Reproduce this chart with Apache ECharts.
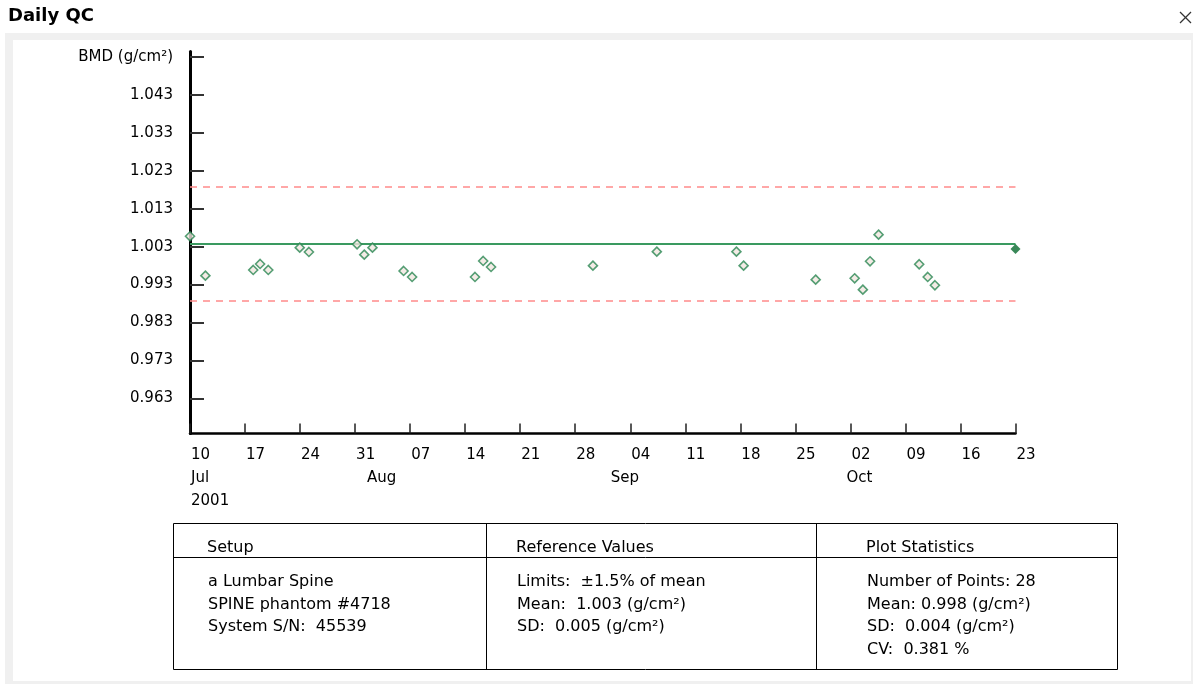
<!DOCTYPE html>
<html>
<head>
<meta charset="utf-8">
<script src="https://cdn.jsdelivr.net/npm/echarts@6/dist/echarts.min.js"></script>
<style>
  html, body { margin: 0; padding: 0; background: #fff; width: 1194px; height: 684px; overflow: hidden; }
  #frame { position: absolute; left: 5px; top: 33px; width: 1188px; height: 651px; background: #f0f0f0; }
  #inner { position: absolute; left: 13px; top: 40px; width: 1178px; height: 641px; background: #fff; }
  #chart { position: absolute; left: 0; top: 0; width: 1194px; height: 684px; }
</style>
</head>
<body>
<div id="frame"></div>
<div id="inner"></div>
<div id="chart"></div>
<script>
// ---------- data ----------
const titleText = 'Daily QC';
const yAxisName = 'BMD (g/cm\u00b2)';
const yTicks = [0.963, 0.973, 0.983, 0.993, 1.003, 1.013, 1.023, 1.033, 1.043, 1.053];
const yMin = 0.9537;
const yMax = 1.0545;
const xStart = '2001-07-10 00:00';
const xEnd = '2001-10-23 00:00';
const monthNames = ['Jul', 'Aug', 'Sep', 'Oct'];
const monthStarts = ['2001-07-10 00:00', '2001-08-01 00:00', '2001-09-01 00:00', '2001-10-01 00:00'];
const yearLabel = '2001';

const qcDates = [
  '2001-07-10 00:00', '2001-07-11 23:00', '2001-07-18 01:00', '2001-07-18 22:00', '2001-07-19 23:00',
  '2001-07-23 23:00', '2001-07-25 03:00', '2001-07-31 06:00', '2001-08-01 04:00', '2001-08-02 05:00',
  '2001-08-06 04:00', '2001-08-07 06:00', '2001-08-15 06:00', '2001-08-16 07:00', '2001-08-17 07:00',
  '2001-08-30 06:00', '2001-09-07 09:00', '2001-09-17 12:00', '2001-09-18 10:00', '2001-09-27 14:00',
  '2001-10-02 13:00', '2001-10-03 14:00', '2001-10-04 12:00', '2001-10-05 14:00', '2001-10-10 18:00',
  '2001-10-11 20:00', '2001-10-12 18:00'
];
const qcBMD = [
  1.00574, 0.99535, 0.99685, 0.99844, 0.99685,
  1.00274, 1.00160, 1.00363, 1.00089, 1.00274,
  0.99659, 0.99501, 0.99501, 0.99923, 0.99764,
  0.99799, 1.00168, 1.00168, 0.99799, 0.99429,
  0.99466, 0.99165, 0.99915, 1.00617, 0.99836,
  0.99501, 0.99282
];
const lastDate = '2001-10-23 00:00';
const lastBMD = 1.00239;

const refMean = 1.0037;
const limitPct = 0.015;

const tableHeaders = ['Setup', 'Reference Values', 'Plot Statistics'];
const setupLines = ['a Lumbar Spine', 'SPINE phantom #4718', 'System S/N:  45539'];
const refLines = ['Limits:  \u00b11.5% of mean', 'Mean:  1.003 (g/cm\u00b2)', 'SD:  0.005 (g/cm\u00b2)'];
const statLines = ['Number of Points: 28', 'Mean: 0.998 (g/cm\u00b2)', 'SD:  0.004 (g/cm\u00b2)', 'CV:  0.381 %'];

// ---------- helpers ----------
const FONT = '"DejaVu Sans", Arial, sans-serif';
function toUTC(s) {
  const [d, t] = s.split(' ');
  const [Y, M, D] = d.split('-').map(Number);
  const [h, m] = (t || '00:00').split(':').map(Number);
  return Date.UTC(Y, M - 1, D, h, m);
}
const START = toUTC(xStart);
const DAY = 86400000;
function dayOf(s) { return (toUTC(s) - START) / DAY; }
const xMax = dayOf(xEnd);
const pad2 = n => (n < 10 ? '0' : '') + n;

const points = qcDates.map((d, i) => [dayOf(d), qcBMD[i]]);
const lastPoint = [[dayOf(lastDate), lastBMD]];
const upper = refMean * (1 + limitPct);
const lower = refMean * (1 - limitPct);
const monthPos = monthStarts.map(dayOf);

// ---------- table graphics ----------
const colX = [173.5, 486.5, 816.5, 1117.5];
const tTop = 523.5, tHead = 557.5, tBottom = 669.5;
const textX = [207, 516, 866];
const headerY = 547.5;
const bodyY0 = 582, bodyStep = 22.5;
const graphics = [];
graphics.push({ type: 'text', left: 8, top: 7, style: { text: titleText, font: 'bold 18px ' + FONT, fill: '#000' } });
graphics.push({ type: 'line', shape: { x1: 1180, y1: 12, x2: 1191, y2: 23 }, style: { stroke: '#333', lineWidth: 1.3 } });
graphics.push({ type: 'line', shape: { x1: 1191, y1: 12, x2: 1180, y2: 23 }, style: { stroke: '#333', lineWidth: 1.3 } });
graphics.push({ type: 'rect', shape: { x: colX[0], y: tTop, width: colX[3] - colX[0], height: tBottom - tTop }, style: { fill: 'none', stroke: '#000', lineWidth: 1 } });
graphics.push({ type: 'line', shape: { x1: colX[0], y1: tHead, x2: colX[3], y2: tHead }, style: { stroke: '#000', lineWidth: 1 } });
graphics.push({ type: 'line', shape: { x1: colX[1], y1: tTop, x2: colX[1], y2: tBottom }, style: { stroke: '#000', lineWidth: 1 } });
graphics.push({ type: 'line', shape: { x1: colX[2], y1: tTop, x2: colX[2], y2: tBottom }, style: { stroke: '#000', lineWidth: 1 } });
tableHeaders.forEach((h, i) => {
  graphics.push({ type: 'text', style: { text: h, x: textX[i], y: headerY, font: '16px ' + FONT, fill: '#000', verticalAlign: 'middle', textVerticalAlign: 'middle' } });
});
[setupLines, refLines, statLines].forEach((lines, c) => {
  lines.forEach((ln, r) => {
    graphics.push({ type: 'text', style: { text: ln, x: textX[c] + 1, y: bodyY0 + r * bodyStep, font: '16px ' + FONT, fill: '#000', verticalAlign: 'middle', textVerticalAlign: 'middle' } });
  });
});

// ---------- chart ----------
const chart = echarts.init(document.getElementById('chart'), null, { renderer: 'canvas' });
chart.setOption({
  animation: false,
  backgroundColor: 'transparent',
  grid: { left: 190, right: 178.5, top: 51.5, bottom: 250.5 },
  xAxis: [
    {
      type: 'value', min: 0, max: xMax, interval: 7,
      axisLine: { onZero: false, lineStyle: { color: '#000', width: 2.5 } },
      axisTick: { inside: true, length: 10, lineStyle: { color: '#222', width: 1.5 } },
      splitLine: { show: false },
      axisLabel: {
        align: 'left', margin: 13, color: '#000', fontFamily: FONT, fontSize: 15, lineHeight: 18,
        padding: [0, 0, 0, 1],
        formatter: v => pad2(new Date(START + v * DAY).getUTCDate())
      }
    },
    {
      type: 'value', min: 0, max: xMax, position: 'bottom', offset: 21,
      axisLine: { show: false }, axisTick: { show: false }, splitLine: { show: false },
      axisLabel: {
        customValues: monthPos, align: 'left', margin: 12, color: '#000', fontFamily: FONT, fontSize: 15,
        formatter: v => {
          const i = monthPos.findIndex(p => Math.abs(p - v) < 1e-6);
          if (i === 0) return '{j|' + monthNames[0] + '}\n{j|' + yearLabel + '}';
          return '{m|' + (monthNames[i] || '') + '}';
        },
        rich: {
          j: { fontFamily: FONT, fontSize: 15, color: '#000', lineHeight: 23, padding: [0, 0, 0, 1] },
          m: { fontFamily: FONT, fontSize: 15, color: '#000', lineHeight: 23, padding: [0, 0, 0, 4] }
        }
      }
    }
  ],
  yAxis: {
    type: 'value', min: yMin, max: yMax,
    axisLine: { show: true, onZero: false, lineStyle: { color: '#000', width: 3 } },
    axisTick: { show: true, inside: true, length: 14, customValues: yTicks, lineStyle: { color: '#333', width: 2 } },
    splitLine: { show: false },
    axisLabel: {
      customValues: yTicks, margin: 17, color: '#000', fontFamily: FONT, fontSize: 15,
      formatter: v => (Math.abs(v - 1.053) < 1e-6 ? yAxisName : v.toFixed(3))
    }
  },
  series: [
    {
      type: 'line', silent: true, symbol: 'none', z: 1,
      data: [[0, upper], [xMax, upper]],
      lineStyle: { color: '#ff8a8a', width: 1.5, type: [7, 6] }
    },
    {
      type: 'line', silent: true, symbol: 'none', z: 1,
      data: [[0, lower], [xMax, lower]],
      lineStyle: { color: '#ff8a8a', width: 1.5, type: [7, 6] }
    },
    {
      type: 'line', silent: true, symbol: 'none', z: 2,
      data: [[0, refMean], [xMax, refMean]],
      lineStyle: { color: '#3a9a60', width: 2 }
    },
    {
      type: 'scatter', symbol: 'diamond', symbolSize: 9, z: 3,
      data: points,
      itemStyle: { color: '#f1e6e0', borderColor: '#2a8752', borderWidth: 1.6 }
    },
    {
      type: 'scatter', symbol: 'diamond', symbolSize: 10, z: 4,
      data: lastPoint,
      itemStyle: { color: '#086a2e' }
    }
  ],
  graphic: graphics
});
</script>
</body>
</html>
